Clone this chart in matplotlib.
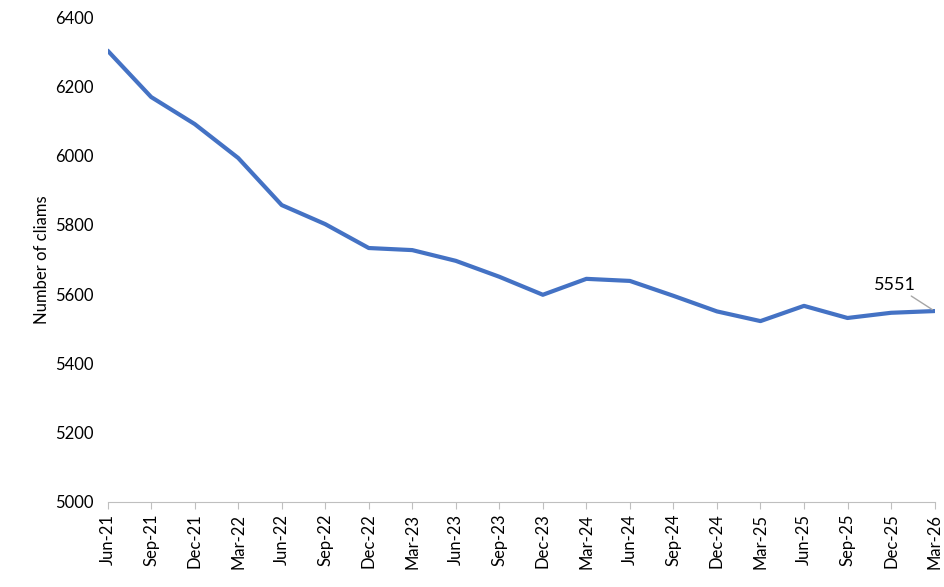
import matplotlib.pyplot as plt

plt.rcParams['font.family'] = ['Lato', 'DejaVu Sans']

quarters = ['Jun-21', 'Sep-21', 'Dec-21', 'Mar-22', 'Jun-22', 'Sep-22', 'Dec-22', 'Mar-23',
            'Jun-23', 'Sep-23', 'Dec-23', 'Mar-24', 'Jun-24', 'Sep-24', 'Dec-24', 'Mar-25',
            'Jun-25', 'Sep-25', 'Dec-25', 'Mar-26']
claims = [6303, 6169, 6091, 5993, 5857, 5802, 5733, 5727, 5696, 5650, 5598, 5644, 5638,
          5595, 5550, 5522, 5566, 5531, 5546, 5551]
yticks = [5000, 5200, 5400, 5600, 5800, 6000, 6200, 6400]

fig = plt.figure(figsize=(9.44, 5.87), dpi=100)
ax = fig.add_axes([0.114, 0.145, 0.876, 0.826])
x = list(range(len(quarters)))
ax.plot(x, claims, color='#4472C4', linewidth=3, solid_capstyle='round')

ax.set_xlim(0, len(quarters) - 1)
ax.set_ylim(5000, 6400)
ax.set_yticks(yticks)
ax.set_xticks(x)
ax.set_xticklabels(quarters, rotation=90, fontsize=12)
ax.tick_params(axis='y', length=0, labelsize=12, pad=10)
ax.tick_params(axis='x', length=5, color='#BFBFBF', labelsize=12)
for s in ['top', 'right', 'left']:
    ax.spines[s].set_visible(False)
ax.spines['bottom'].set_color('#BFBFBF')
ax.set_ylabel('Number of cliams', fontsize=12)

ax.annotate(str(claims[-1]), xy=(x[-1], claims[-1]), xytext=(x[-1] - 1.4, claims[-1] + 60),
            fontsize=13, arrowprops=dict(arrowstyle='-', color='#A6A6A6', lw=1,
                                         shrinkA=0, shrinkB=2))
fig.savefig('out.png')
